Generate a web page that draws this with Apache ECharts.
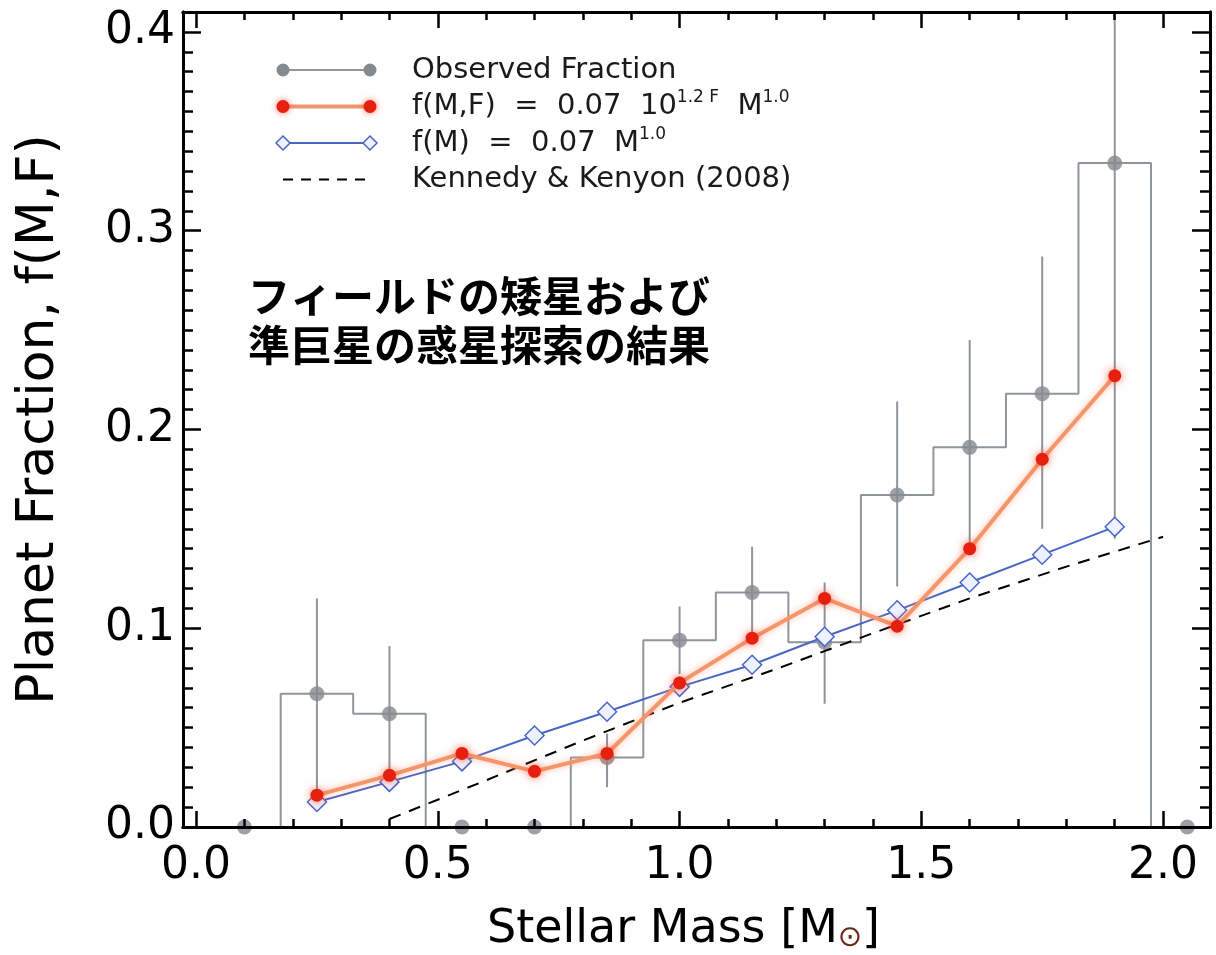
<!DOCTYPE html>
<html>
<head>
<meta charset="utf-8">
<script src="https://cdn.jsdelivr.net/npm/echarts@6/dist/echarts.min.js"></script>
<style>
html,body{margin:0;padding:0;background:#fff;}
#chart{width:1216px;height:955px;}
</style>
</head>
<body>
<div id="chart"></div>
<script>
// ---- data ----
const binCenters = [0.1, 0.25, 0.4, 0.55, 0.7, 0.85, 1.0, 1.15, 1.3, 1.45, 1.6, 1.75, 1.9, 2.05];
const binWidth = 0.15;
const observed = [0, 0.067, 0.057, 0, 0, 0.035, 0.094, 0.118, 0.093, 0.167, 0.191, 0.218, 0.334, 0];
const observedLow = [null, 0.019, 0.024, null, null, 0.020, 0.077, 0.095, 0.062, 0.121, 0.137, 0.150, 0.145, null];
const observedHigh = [null, 0.115, 0.091, null, null, 0.047, 0.111, 0.141, 0.123, 0.214, 0.245, 0.287, 0.52, null];

const modelMass = [0.25, 0.4, 0.55, 0.7, 0.85, 1.0, 1.15, 1.3, 1.45, 1.6, 1.75, 1.9];
const fMF = [0.016, 0.026, 0.037, 0.028, 0.037, 0.0725, 0.095, 0.115, 0.101, 0.140, 0.185, 0.227];
const fM = [0.0126, 0.0227, 0.033, 0.046, 0.058, 0.0705, 0.0816, 0.0957, 0.109, 0.123, 0.137, 0.151];

const kkMass = [0.4, 0.6, 0.8, 1.0, 1.2, 1.4, 1.6, 1.8, 2.0];
const kkFrac = [0.004, 0.0235, 0.0435, 0.0625, 0.0795, 0.0975, 0.115, 0.131, 0.146];

const xMajorTicks = [0, 0.5, 1.0, 1.5, 2.0];
const xMinorTicks = [0, 0.1, 0.2, 0.3, 0.4, 0.5, 0.6, 0.7, 0.8, 0.9, 1.0, 1.1, 1.2, 1.3, 1.4, 1.5, 1.6, 1.7, 1.8, 1.9, 2.0];
const yMajorTicks = [0, 0.1, 0.2, 0.3, 0.4];
const yMinorTicks = [];
for (let i = 0; i <= 40; i++) yMinorTicks.push(+(i * 0.01).toFixed(2));

const legendLabels = ['Observed Fraction', 'f(M,F)  =  0.07  10{sup|1.2 F}  M{sup|1.0}', 'f(M)  =  0.07  M{sup|1.0}', 'Kennedy & Kenyon (2008)'];
const noteLines = ['フィールドの矮星および', '準巨星の惑星探索の結果'];

// ---- derived series ----
const histData = [[binCenters[0] - binWidth / 2, 0]];
binCenters.forEach((x, i) => histData.push([x, observed[i]]));
histData.push([binCenters[binCenters.length - 1] + binWidth / 2, 0]);

const obsData = binCenters.map((x, i) => [x, observed[i]]);
const errData = [];
binCenters.forEach((x, i) => { if (observedLow[i] !== null) errData.push([x, observedLow[i], observedHigh[i]]); });
const fMFData = modelMass.map((x, i) => [x, fMF[i]]);
const fMData = modelMass.map((x, i) => [x, fM[i]]);
const kkData = kkMass.map((x, i) => [x, kkFrac[i]]);

const GRAY = '#858a90';
const GRAY_LINE = '#8f959b';
const RED = '#e5200f';
const ORANGE = '#f4956c';
const BLUE = '#4a66c4';
const FONT = 'DejaVu Sans';

const X_MIN = -0.027, X_MAX = 2.097, Y_MIN = 0, Y_MAX = 0.41;

function xAxisDef(pos, ticks, len, labels) {
  return {
    type: 'value', position: pos, min: X_MIN, max: X_MAX, z: 20,
    axisLine: { show: true, onZero: false, lineStyle: { color: '#000', width: 3 } },
    axisTick: { show: true, inside: true, length: len, customValues: ticks, lineStyle: { color: '#000', width: 2.5 } },
    axisLabel: labels ? { show: true, customValues: xMajorTicks, formatter: v => v.toFixed(1), fontSize: 44, fontFamily: FONT, color: '#000', margin: 18 } : { show: false },
    splitLine: { show: false }
  };
}
function yAxisDef(pos, ticks, len, labels) {
  return {
    type: 'value', position: pos, min: Y_MIN, max: Y_MAX, z: 20,
    axisLine: { show: true, onZero: false, lineStyle: { color: '#000', width: 3 } },
    axisTick: { show: true, inside: true, length: len, customValues: ticks, lineStyle: { color: '#000', width: 2.5 } },
    axisLabel: labels ? { show: true, customValues: yMajorTicks, formatter: v => v.toFixed(1), fontSize: 44, fontFamily: FONT, color: '#000', margin: 8 } : { show: false },
    splitLine: { show: false }
  };
}

const xAxes = [
  xAxisDef('bottom', xMajorTicks, 16, true),
  xAxisDef('bottom', xMinorTicks, 8, false),
  xAxisDef('top', xMajorTicks, 16, false),
  xAxisDef('top', xMinorTicks, 8, false)
];
Object.assign(xAxes[0], {
  name: 'Stellar Mass [M{sub|⊙}]', nameLocation: 'middle', nameGap: 80,
  nameTextStyle: { fontSize: 46, fontFamily: FONT, color: '#000', padding: [0, 26, 0, 0], rich: { sub: { fontSize: 29, fontFamily: FONT, color: '#6a2818', verticalAlign: 'bottom', padding: [14, 0, 0, 0] } } }
});
const yAxes = [
  yAxisDef('left', yMajorTicks, 18, true),
  yAxisDef('left', yMinorTicks, 10, false),
  yAxisDef('right', yMajorTicks, 18, false),
  yAxisDef('right', yMinorTicks, 10, false)
];
Object.assign(yAxes[0], {
  name: 'Planet Fraction, f(M,F)', nameLocation: 'middle', nameGap: 118, nameRotate: 90,
  nameTextStyle: { fontSize: 52, fontFamily: FONT, color: '#000' }
});

// legend drawn as graphic
const legX0 = 283, legX1 = 370, legTextX = 412, legY0 = 70, legDy = 36.5;
const legendGraphics = [];
const legStyles = [
  { stroke: GRAY_LINE, w: 2, sym: 'circle', fill: GRAY, dash: null },
  { stroke: ORANGE, w: 4, sym: 'circle', fill: RED, dash: null },
  { stroke: BLUE, w: 2, sym: 'diamond', fill: '#fff', dash: null },
  { stroke: '#000', w: 2, sym: null, dash: [10, 8] }
];
legendLabels.forEach((lab, i) => {
  const y = legY0 + i * legDy;
  const s = legStyles[i];
  legendGraphics.push({ type: 'line', shape: { x1: legX0, y1: y, x2: legX1, y2: y }, style: { stroke: s.stroke, lineWidth: s.w, lineDash: s.dash }, z: 100 });
  if (s.sym === 'circle') {
    [legX0, legX1].forEach(cx => legendGraphics.push({ type: 'circle', shape: { cx: cx, cy: y, r: 6.5 }, style: { fill: s.fill, shadowBlur: i === 1 ? 6 : 0, shadowColor: 'rgba(255,60,30,0.7)' }, z: 101 }));
  } else if (s.sym === 'diamond') {
    [legX0, legX1].forEach(cx => legendGraphics.push({ type: 'polygon', shape: { points: [[cx, y - 7], [cx + 7, y], [cx, y + 7], [cx - 7, y]] }, style: { fill: '#eef1ff', stroke: BLUE, lineWidth: 1.5 }, z: 101 }));
  }
  legendGraphics.push({
    type: 'text', x: legTextX, y: y, z: 101,
    style: {
      text: lab, fill: '#1a1a1a', fontSize: 29, fontFamily: FONT, verticalAlign: 'middle', lineHeight: 34,
      rich: { sup: { fontSize: 17, fontFamily: FONT, fill: '#1a1a1a', verticalAlign: 'top', lineHeight: 17 } }
    }
  });
});
legendGraphics.push({
  type: 'text', x: 248, y: 272, z: 101,
  style: { text: noteLines.join('\n'), fill: '#000', fontSize: 42, fontWeight: 'bold', fontFamily: '"Noto Sans CJK JP"', lineHeight: 49, verticalAlign: 'top' }
});

const option = {
  backgroundColor: '#fff',
  animation: false,
  grid: { left: 183, right: 6, top: 12, bottom: 128, containLabel: false, outerBoundsMode: 'none' },
  xAxis: xAxes,
  yAxis: yAxes,
  graphic: { elements: legendGraphics },
  series: [
    {
      name: 'hist', type: 'line', step: 'middle', data: histData, xAxisIndex: 0, yAxisIndex: 0,
      symbol: 'none', lineStyle: { color: GRAY_LINE, width: 2 }, z: 2, clip: true
    },
    {
      name: 'err', type: 'custom', data: errData, xAxisIndex: 0, yAxisIndex: 0, z: 3,
      renderItem: function (params, api) {
        const x = api.value(0), lo = api.value(1), hi = api.value(2);
        const p1 = api.coord([x, lo]);
        const p2 = api.coord([x, hi]);
        const top = params.coordSys.y;
        return { type: 'line', shape: { x1: p1[0], y1: p1[1], x2: p2[0], y2: Math.max(p2[1], top) }, style: { stroke: GRAY_LINE, lineWidth: 2 } };
      }
    },
    {
      name: 'Observed Fraction', type: 'scatter', data: obsData, symbol: 'circle', symbolSize: 15,
      itemStyle: { color: GRAY }, z: 4
    },
    {
      name: 'Kennedy & Kenyon (2008)', type: 'line', data: kkData, symbol: 'none',
      lineStyle: { color: '#000', width: 2, type: [12, 9] }, z: 5
    },
    {
      name: 'f(M)', type: 'line', data: fMData, symbol: 'diamond', symbolSize: 19,
      lineStyle: { color: BLUE, width: 2 }, itemStyle: { color: '#eef1ff', borderColor: BLUE, borderWidth: 1.5 }, z: 6
    },
    {
      name: 'f(M,F)', type: 'line', data: fMFData, symbol: 'circle', symbolSize: 13,
      lineStyle: { color: ORANGE, width: 4, shadowBlur: 6, shadowColor: 'rgba(255,150,110,0.6)' },
      itemStyle: { color: RED, shadowBlur: 8, shadowColor: 'rgba(255,60,30,0.7)' }, z: 7
    }
  ]
};

const chart = echarts.init(document.getElementById('chart'), null, { renderer: 'canvas' });
chart.setOption(option);
</script>
</body>
</html>
